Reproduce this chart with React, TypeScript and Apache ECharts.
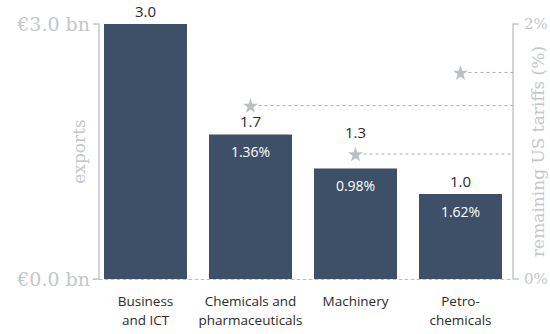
import React, { useEffect, useRef } from "react";
import * as echarts from "echarts";

const categories = ["Business\nand ICT\nservices", "Chemicals and\npharmaceuticals", "Machinery", "Petro-\nchemicals"];
const exportsBn = [3.0, 1.7, 1.3, 1.0];
const tariffsPct: (number | null)[] = [null, 1.36, 0.98, 1.62];
const exportTicks = [0, 3];
const tariffTicks = [0, 2];

const BAR = "#3d5068";
const GREY = "#c3c7cb";
const STAR = "#a9afb5";
const SANS = "Open Sans";
const SERIF = "DejaVu Serif";
const STAR_PATH =
  "path://M50,0 L61.2,34.5 L97.6,34.5 L68.2,55.9 L79.4,90.5 L50,69.1 L20.6,90.5 L31.8,55.9 L2.4,34.5 L38.8,34.5 Z";

export default function App() {
  const ref = useRef<HTMLDivElement>(null);

  useEffect(() => {
    if (!ref.current) return;
    const chart = echarts.init(ref.current, null, { renderer: "svg" });
    const eMax = exportTicks[exportTicks.length - 1];
    const tMax = tariffTicks[tariffTicks.length - 1];

    const barData = exportsBn.map((v, i) => {
      const t = tariffsPct[i];
      const starInExportUnits = t == null ? null : (t / tMax) * eMax;
      const crowded = starInExportUnits != null && starInExportUnits - v > 0 && starInExportUnits - v < 0.3;
      return crowded
        ? { value: v, label: { distance: 5 + ((starInExportUnits as number) - v) * 85 + 10 } }
        : { value: v };
    });

    chart.setOption({
      animation: false,
      grid: { left: 93, right: 37, top: 24, bottom: 55, containLabel: false, outerBoundsMode: "none" },
      xAxis: {
        type: "category",
        data: categories,
        axisLine: { show: true, lineStyle: { color: "#b9bec3", type: [3, 3], width: 1 } },
        axisTick: { show: false },
        axisLabel: {
          color: "#2b2b2b",
          fontFamily: SANS,
          fontSize: 13.5,
          lineHeight: 19,
          margin: 12,
          interval: 0,
        },
      },
      yAxis: [
        {
          type: "value",
          min: exportTicks[0],
          max: eMax,
          interval: eMax - exportTicks[0],
          offset: -6,
          splitLine: { show: false },
          axisLine: { show: true, lineStyle: { color: GREY, width: 1.5 } },
          axisTick: { show: true, length: 6, lineStyle: { color: GREY, width: 1.5 } },
          axisLabel: {
            color: GREY,
            fontFamily: SERIF,
            fontSize: 19,
            margin: 9,
            formatter: (v: number) => "€" + v.toFixed(1) + " bn",
          },
          name: "exports",
          nameLocation: "middle",
          nameGap: 12,
          nameRotate: 90,
          nameMoveOverlap: false,
          nameTextStyle: { color: GREY, fontFamily: SERIF, fontSize: 17 },
        },
        {
          type: "value",
          min: tariffTicks[0],
          max: tMax,
          interval: tMax - tariffTicks[0],
          position: "right",
          splitLine: { show: false },
          axisLine: { show: true, lineStyle: { color: GREY, width: 1.5 } },
          axisTick: { show: true, length: 6, lineStyle: { color: GREY, width: 1.5 } },
          axisLabel: {
            color: GREY,
            fontFamily: SERIF,
            fontSize: 15,
            margin: 11,
            formatter: (v: number) => v + "%",
          },
          name: "remaining US tariffs (%)",
          nameLocation: "middle",
          nameGap: 16,
          nameRotate: 90,
          nameMoveOverlap: false,
          nameTextStyle: { color: GREY, fontFamily: SERIF, fontSize: 17 },
        },
      ],
      series: [
        {
          type: "bar",
          data: barData,
          barWidth: 83,
          itemStyle: { color: BAR },
          label: {
            show: true,
            position: "top",
            distance: 6,
            color: "#2b2b2b",
            fontFamily: SANS,
            fontSize: 15,
            formatter: (p: any) => exportsBn[p.dataIndex].toFixed(1),
          },
          z: 2,
        },
        {
          type: "bar",
          data: exportsBn,
          barWidth: 83,
          barGap: "-100%",
          itemStyle: { color: "rgba(0,0,0,0)" },
          label: {
            show: true,
            position: "insideTop",
            distance: 10,
            color: "#ffffff",
            fontFamily: SANS,
            fontSize: 14,
            formatter: (p: any) => {
              const t = tariffsPct[p.dataIndex];
              return t == null ? "" : t.toFixed(2) + "%";
            },
          },
          z: 3,
        },
        {
          type: "custom",
          yAxisIndex: 1,
          data: tariffsPct.map((t, i) => (t == null ? null : [i, t])).filter((d) => d != null),
          renderItem: (params: any, api: any) => {
            const p = api.coord([api.value(0), api.value(1)]);
            const right = params.coordSys.x + params.coordSys.width;
            return {
              type: "line",
              shape: { x1: p[0] + 8, y1: p[1], x2: right, y2: p[1] },
              style: { stroke: STAR, lineWidth: 1, lineDash: [3, 3] },
            };
          },
          z: 4,
        },
        {
          type: "scatter",
          yAxisIndex: 1,
          data: tariffsPct.map((t) => (t == null ? "-" : t)),
          symbol: STAR_PATH,
          symbolSize: 15,
          itemStyle: { color: STAR },
          z: 5,
        },
      ],
    });
    return () => chart.dispose();
  }, []);

  return (
    <div
      ref={ref}
      style={{ position: "fixed", left: 0, top: 0, width: 550, height: 334, background: "#ffffff" }}
    />
  );
}
